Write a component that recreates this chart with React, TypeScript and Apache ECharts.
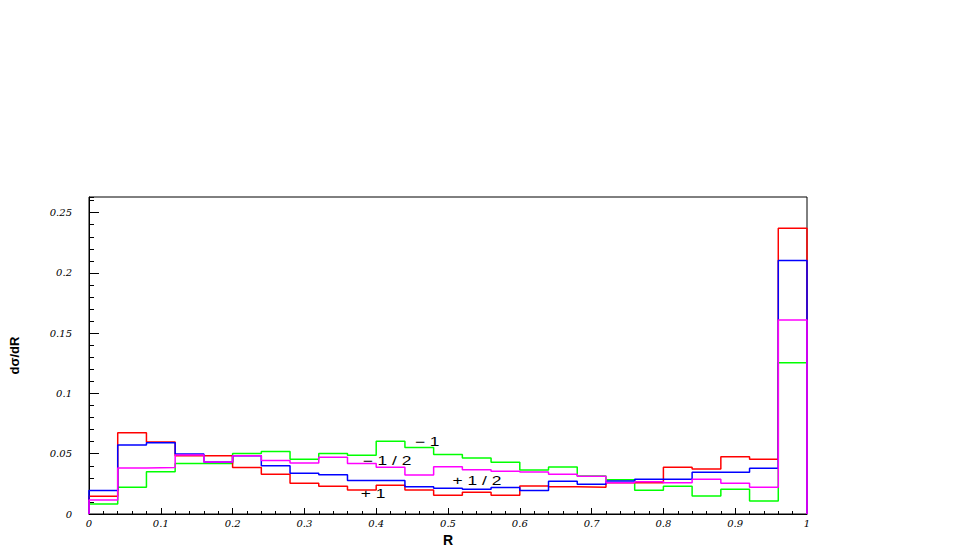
import React, { useEffect, useRef } from "react";
import * as echarts from "echarts";

const binEdges = [0, 0.04, 0.08, 0.12, 0.16, 0.2, 0.24, 0.28, 0.32, 0.36, 0.4, 0.44, 0.48, 0.52, 0.56, 0.6, 0.64, 0.68, 0.72, 0.76, 0.8, 0.84, 0.88, 0.92, 0.96, 1];

const plusOne = [0.0147, 0.0675, 0.0597, 0.0484, 0.0484, 0.0385, 0.033, 0.0255, 0.023, 0.0199, 0.0238, 0.0199, 0.0155, 0.018, 0.0155, 0.0233, 0.0227, 0.0222, 0.026, 0.026, 0.0388, 0.0374, 0.0476, 0.0454, 0.237];
const plusHalf = [0.0194, 0.0573, 0.0592, 0.0498, 0.0432, 0.0484, 0.0401, 0.0338, 0.0325, 0.0277, 0.0277, 0.0227, 0.0213, 0.0205, 0.0219, 0.0194, 0.0272, 0.0247, 0.0274, 0.0288, 0.0288, 0.0346, 0.0346, 0.0379, 0.2104];
const minusHalf = [0.0116, 0.0382, 0.0385, 0.049, 0.0432, 0.0484, 0.0443, 0.0424, 0.0471, 0.042, 0.0388, 0.0324, 0.0393, 0.0368, 0.0355, 0.0349, 0.033, 0.0313, 0.026, 0.0268, 0.026, 0.0288, 0.0255, 0.0222, 0.1609];
const minusOne = [0.0083, 0.0222, 0.0351, 0.042, 0.042, 0.0501, 0.0518, 0.0454, 0.0501, 0.0487, 0.0604, 0.0551, 0.0493, 0.0465, 0.0429, 0.0365, 0.039, 0.0316, 0.0285, 0.0197, 0.023, 0.015, 0.0205, 0.0108, 0.1254];

const seriesNames = ["−1", "+1", "+1/2", "−1/2"];
const annotationTexts = ["− 1", "− 1 / 2", "+ 1 / 2", "+ 1"];

function histPoints(values: number[]): number[][] {
  const pts: number[][] = [[binEdges[0], 0]];
  values.forEach((v, i) => {
    pts.push([binEdges[i], v]);
    pts.push([binEdges[i + 1], v]);
  });
  pts.push([binEdges[binEdges.length - 1], 0]);
  return pts;
}

export default function App() {
  const ref = useRef<HTMLDivElement>(null);
  useEffect(() => {
    if (!ref.current) return;
    const chart = echarts.init(ref.current, undefined, { renderer: "svg" });
    const labelStyle = {
      fontFamily: "DejaVu Serif",
      fontStyle: "italic" as const,
      fontSize: 10,
      color: "#000",
    };
    const mk = (name: string, values: number[], color: string) => ({
      name,
      type: "line",
      data: histPoints(values),
      symbol: "none",
      lineStyle: { color, width: 1.5 },
      xAxisIndex: 0,
      yAxisIndex: 0,
      z: 3,
    });
    const annPos = [
      [427, 442],
      [387, 461],
      [477, 481],
      [373, 494],
    ];
    chart.setOption({
      animation: false,
      backgroundColor: "#fff",
      grid: {
        left: 89,
        top: 197,
        right: 162,
        bottom: 40,
        show: true,
        borderColor: "#000",
        borderWidth: 1,
      },
      xAxis: {
        type: "value",
        min: 0,
        max: 1,
        interval: 0.1,
        name: "R",
        nameLocation: "middle",
        nameGap: 12,
        nameTextStyle: { fontFamily: "Liberation Sans", fontWeight: "bold", fontSize: 14, color: "#000" },
        axisLine: { show: true, lineStyle: { color: "#000", width: 1 } },
        axisTick: { show: true, inside: true, length: 6, lineStyle: { color: "#000" } },
        minorTick: { show: true, splitNumber: 5, length: 3, lineStyle: { color: "#000" } },
        splitLine: { show: false },
        axisLabel: { ...labelStyle, margin: 4 },
      },
      yAxis: [
        {
          type: "value",
          min: 0,
          max: 0.263,
          interval: 0.05,
          position: "left",
          name: "dσ/dR",
          nameLocation: "middle",
          nameGap: 68,
          nameTextStyle: { fontFamily: "Liberation Sans", fontWeight: "bold", fontSize: 13, color: "#000" },
          axisLine: { show: true, lineStyle: { color: "#000", width: 1 } },
          axisTick: { show: true, inside: true, length: 10, lineStyle: { color: "#000" } },
          splitLine: { show: false },
          axisLabel: { ...labelStyle, margin: 17, showMaxLabel: false },
        },
        {
          type: "value",
          min: 0,
          max: 0.263,
          interval: 0.01,
          position: "left",
          axisLine: { show: false },
          axisTick: { show: true, inside: true, length: 5, lineStyle: { color: "#000" } },
          splitLine: { show: false },
          axisLabel: { show: false },
        },
      ],
      series: [
        mk(seriesNames[0], minusOne, "#00ff00"),
        mk(seriesNames[1], plusOne, "#ff0000"),
        mk(seriesNames[2], plusHalf, "#0000ff"),
        mk(seriesNames[3], minusHalf, "#ff00ff"),
      ],
      graphic: annotationTexts.map((t, i) => ({
        type: "text",
        x: annPos[i][0],
        y: annPos[i][1],
        scaleX: 1.45,
        z: 10,
        style: {
          text: t,
          fontFamily: "Liberation Sans",
          fontSize: 12,
          fill: "#000",
          align: "center",
          verticalAlign: "middle",
        },
      })),
    });
    return () => chart.dispose();
  }, []);
  return <div ref={ref} style={{ position: "fixed", left: 0, top: 0, width: 969, height: 554 }} />;
}
